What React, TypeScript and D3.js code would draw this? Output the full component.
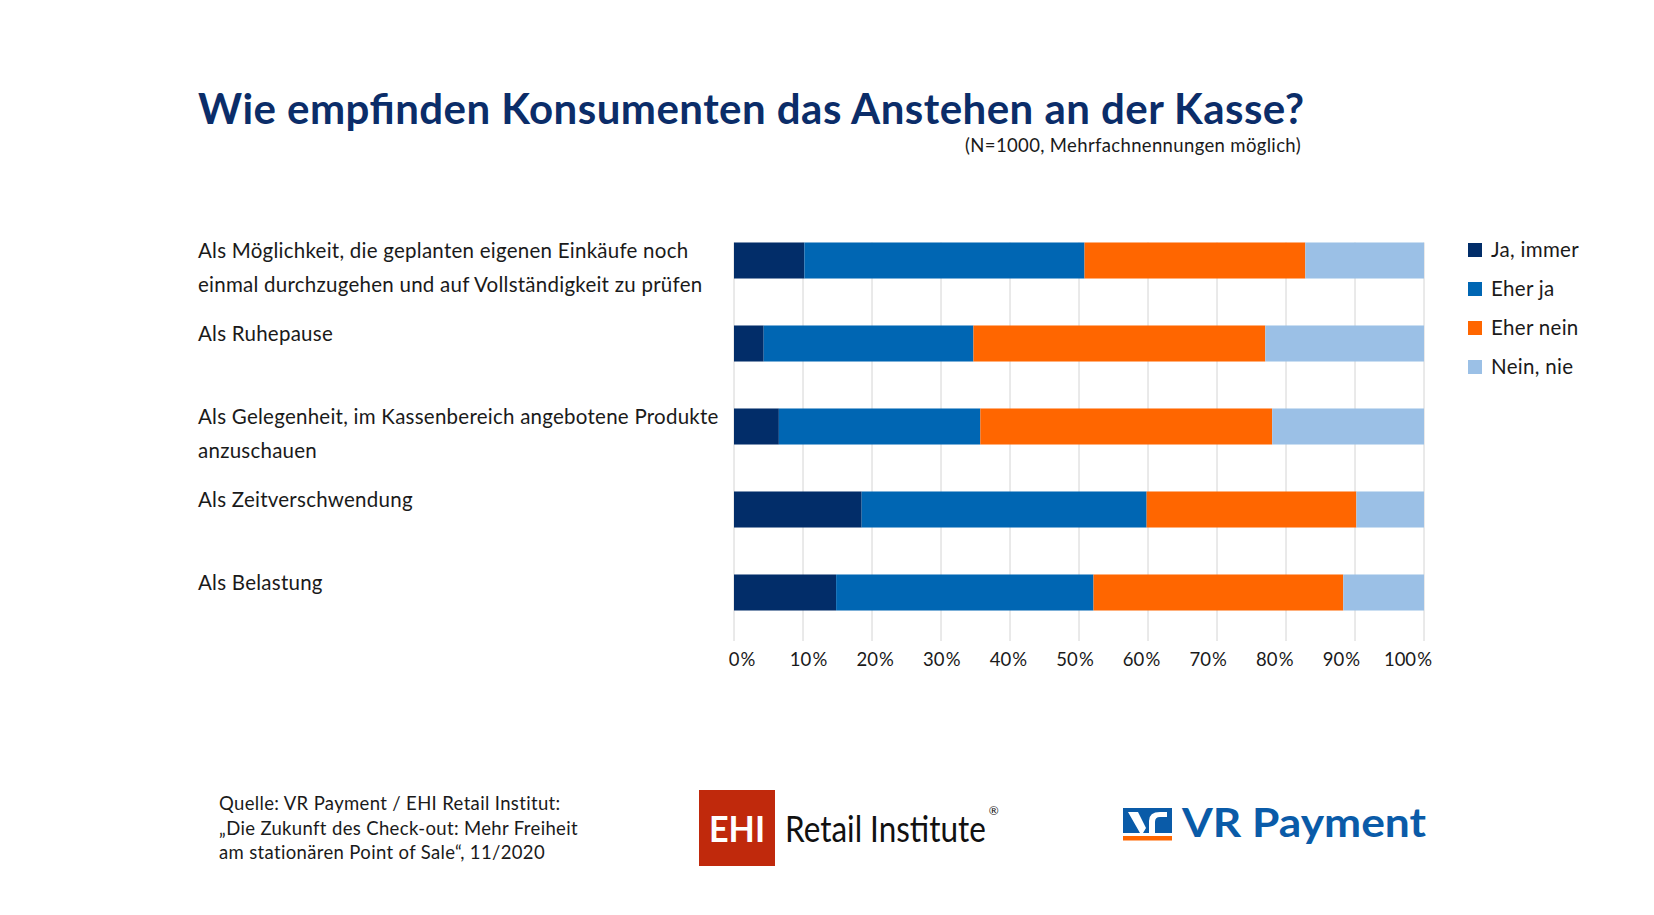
import { useLayoutEffect, useRef, useState } from 'react';
import * as d3 from 'd3';

// Category labels (line-broken as in the reference)
const categoryLines = [
  ['Als Möglichkeit, die geplanten eigenen Einkäufe noch', 'einmal durchzugehen und auf Vollständigkeit zu prüfen'],
  ['Als Ruhepause'],
  ['Als Gelegenheit, im Kassenbereich angebotene Produkte', 'anzuschauen'],
  ['Als Zeitverschwendung'],
  ['Als Belastung'],
];

// Series values in percent
const jaImmer = [10.2, 4.3, 6.5, 18.5, 14.8];
const eherJa = [40.6, 30.4, 29.2, 41.3, 37.3];
const eherNein = [32.0, 42.3, 42.3, 30.4, 36.2];
const neinNie = [17.2, 23.0, 22.0, 9.8, 11.7];

const seriesNames = ['Ja, immer', 'Eher ja', 'Eher nein', 'Nein, nie'];
const seriesColors = ['#022d69', '#0066b3', '#ff6600', '#9bc0e6'];

const tickValues = [0, 10, 20, 30, 40, 50, 60, 70, 80, 90, 100];

const sourceLines = [
  'Quelle: VR Payment / EHI Retail Institut:',
  '„Die Zukunft des Check-out: Mehr Freiheit',
  'am stationären Point of Sale“, 11/2020',
];

const FONT = 'Lato, "Open Sans", sans-serif';

export default function App() {
  const width = 1654;
  const height = 915;

  // "Retail Institute" is a condensed wordmark: shrink the font until it is ~201px wide,
  // then stretch it vertically back to the cap height of the logo
  const ehiRef = useRef<SVGTextElement>(null);
  const [ehiSize, setEhiSize] = useState(37);
  const [ehiLen, setEhiLen] = useState(201);
  useLayoutEffect(() => {
    if (!ehiRef.current) return;
    const len = ehiRef.current.getComputedTextLength();
    if (ehiSize === 37 && len > 0) {
      const s = (37 * 201) / len;
      setEhiSize(s);
      setEhiLen(201);
    } else if (len > 0) {
      setEhiLen(len);
    }
  }, [ehiSize]);

  const rows = categoryLines.map((_, i) => ({
    s0: jaImmer[i],
    s1: eherJa[i],
    s2: eherNein[i],
    s3: neinNie[i],
  }));
  const stacked = d3.stack<any>().keys(['s0', 's1', 's2', 's3'])(rows);

  const x = d3.scaleLinear().domain([0, 100]).range([734, 1424]);
  // tick labels sit a bit tighter than the gridlines (as in the original)
  const xLabel = d3.scaleLinear().domain([0, 100]).range([742, 1408]);
  const y = d3
    .scaleBand<number>()
    .domain(d3.range(categoryLines.length))
    .range([219, 634])
    .paddingInner(0.566)
    .paddingOuter(0.283);

  const gridTop = y(0)!;
  const gridBottom = 641;

  return (
    <svg
      width={width}
      height={height}
      style={{ position: 'absolute', left: 0, top: 0, background: '#fff' }}
      fontFamily={FONT}
    >
      <rect width={width} height={height} fill="#fff" />

      {/* Title */}
      <text x={198} y={124} fontSize={42} fontWeight={700} fill="#0b2d69" textLength={1106} lengthAdjust="spacing">
        Wie empfinden Konsumenten das Anstehen an der Kasse?
      </text>
      <text x={1301} y={151.5} fontSize={18.5} letterSpacing={0.35} fill="#1a1a1a" textAnchor="end">
        (N=1000, Mehrfachnennungen möglich)
      </text>

      {/* Gridlines */}
      {tickValues.map((t) => (
        <line key={t} x1={x(t)} x2={x(t)} y1={gridTop} y2={gridBottom} stroke="#d4d4d4" strokeWidth={1} />
      ))}

      {/* Bars */}
      {stacked.map((layer, si) => (
        <g key={si} fill={seriesColors[si]}>
          {layer.map((d, i) => (
            <rect key={i} x={x(d[0])} y={y(i)!} width={x(d[1]) - x(d[0])} height={y.bandwidth()} />
          ))}
        </g>
      ))}

      {/* Tick labels */}
      {tickValues.map((t) => (
        <text key={t} x={xLabel(t)} y={660} dy="0.35em" fontSize={18.5} fill="#1a1a1a" textAnchor="middle">
          {`${t}\u200A%`}
        </text>
      ))}

      {/* Category labels */}
      {categoryLines.map((lines, i) => {
        const cy = y(i)! + y.bandwidth() / 2 - 9.5;
        return (
          <text key={i} x={198} fontSize={20.5} letterSpacing={0.25} fill="#1a1a1a">
            {lines.map((l, j) => (
              <tspan key={j} x={198} y={cy + j * 33.7} dy="0.35em">
                {l}
              </tspan>
            ))}
          </text>
        );
      })}

      {/* Legend */}
      {seriesNames.map((name, i) => {
        const cy = 250 + i * 39;
        return (
          <g key={name}>
            <rect x={1468} y={cy - 7} width={14} height={14} fill={seriesColors[i]} />
            <text x={1491} y={cy} dy="0.35em" fontSize={20.5} letterSpacing={0.3} fill="#1a1a1a">
              {name}
            </text>
          </g>
        );
      })}

      {/* Source */}
      <text fontSize={18.5} letterSpacing={0.35} fill="#1a1a1a">
        {sourceLines.map((l, j) => (
          <tspan key={j} x={219} y={804 + j * 24.5} dy="0.35em">
            {l}
          </tspan>
        ))}
      </text>

      {/* EHI logo */}
      <rect x={699} y={790} width={76} height={76} fill="#c0290c" />
      <text x={737} y={842} fontSize={37} fontWeight={700} fill="#fff" textAnchor="middle" textLength={56} lengthAdjust="spacingAndGlyphs">
        EHI
      </text>
      <text
        ref={ehiRef}
        transform={`translate(785,842) scale(1,${37 / ehiSize})`}
        fontSize={ehiSize}
        fill="#111"
      >
        Retail Institute
      </text>
      <text x={785 + ehiLen + 3} y={815} fontSize={12} fill="#111">
        ®
      </text>

      {/* VR Payment logo */}
      <rect x={1123} y={808} width={49} height={25} fill="#0a5ba8" />
      <rect x={1123} y={836} width={49} height={4.5} fill="#ff6600" />
      <path
        d="M1128 812 L1138 812 L1146 828 L1143 833 L1140 833 Z M1149 833 L1149 821 Q1149 812 1160 812 L1167 812 L1167 817 L1160 817 Q1155 817 1155 822 L1155 833 Z"
        fill="#fff"
      />
      <text x={1182} y={837} fontSize={41} fontWeight={700} fill="#0a5ba8" textLength={244} lengthAdjust="spacingAndGlyphs">
        VR Payment
      </text>
    </svg>
  );
}
